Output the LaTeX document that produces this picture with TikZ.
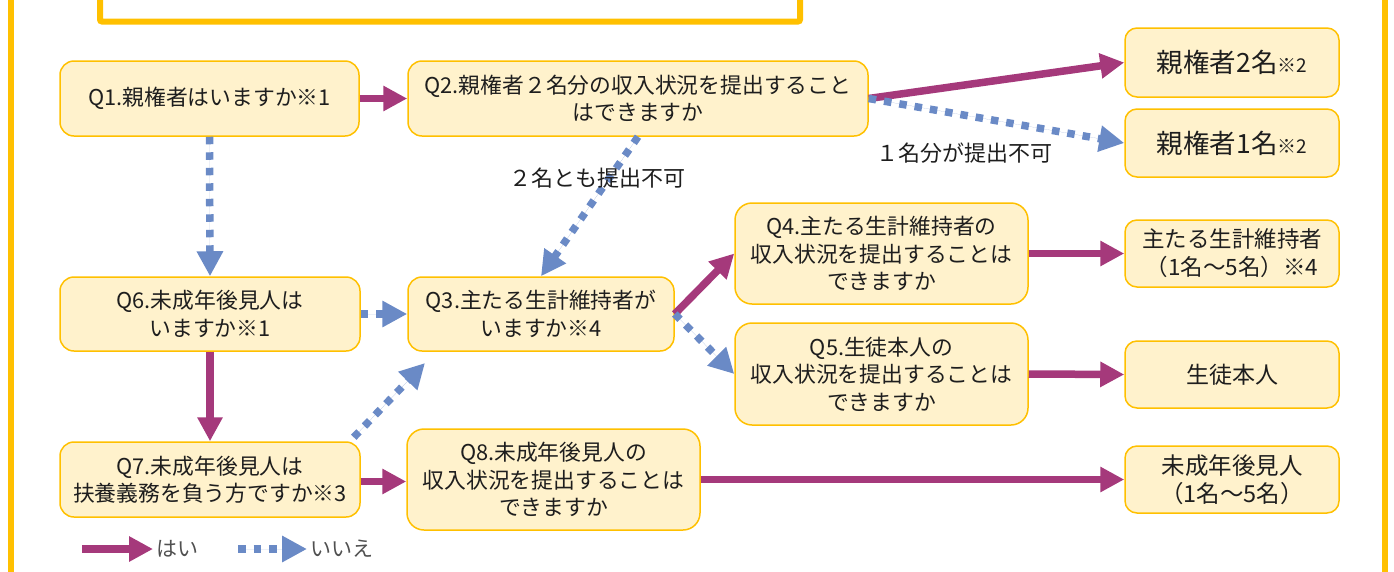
\documentclass[tikz,border=0pt]{standalone}
\usepackage{fontspec}
\setmainfont{Noto Sans CJK JP}
\usetikzlibrary{arrows.meta}
\definecolor{yescol}{HTML}{A5397B}
\definecolor{nocol}{HTML}{6A8AC6}
\definecolor{boxfill}{HTML}{FFF2CC}
\definecolor{boxline}{HTML}{FFC000}
\definecolor{framecol}{HTML}{FFC000}
\definecolor{txt}{HTML}{1E1E1E}
\definecolor{legtxt}{HTML}{505050}
\begin{document}
\begin{tikzpicture}[x=1pt,y=-1pt,
  qbox/.style={draw=boxline, fill=boxfill, line width=1.5pt, rounded corners=14pt,
    align=center, inner sep=0pt, text=txt, font=\fontsize{21.8}{27.5}\selectfont},
  rbox/.style={qbox, minimum width=214pt, rounded corners=12pt},
  yesarrow/.style={draw=yescol, fill=yescol, line width=7.5pt,
    -{Triangle[length=24pt,width=24pt]}},
  noarrow/.style={draw=nocol, fill=nocol, line width=7.5pt,
    dash pattern=on 7.5pt off 8pt, -{Triangle[length=25pt,width=25pt]}},
  lbl/.style={text=txt, font=\fontsize{22}{27}\selectfont, inner sep=0pt},
  leg/.style={text=legtxt, font=\fontsize{21}{24}\selectfont, inner sep=0pt, anchor=west}]
\useasboundingbox (0,0) rectangle (1394,571);

% frame
\draw[framecol, line width=6pt] (11,-10) -- (11,585);
\draw[framecol, line width=6pt] (1385,-10) -- (1385,585);
\draw[framecol, line width=6pt, rounded corners=2pt] (100,-20) -- (100,21.5) -- (800,21.5) -- (800,-20);

% question boxes
\node[qbox, minimum width=299pt, minimum height=75pt] (q1) at (209.5,98.5) {Q1.親権者はいますか※1};
\node[qbox, minimum width=460pt, minimum height=75pt] (q2) at (638,98.5) {Q2.親権者２名分の収入状況を提出すること\\はできますか};
\node[qbox, minimum width=300pt, minimum height=74pt] (q6) at (210,314) {Q6.未成年後見人は\\いますか※1};
\node[qbox, minimum width=300pt, minimum height=75pt] (q7) at (210,479.5) {Q7.未成年後見人は\\扶養義務を負う方ですか※3};
\node[qbox, minimum width=266pt, minimum height=74pt] (q3) at (541,314) {Q3.主たる生計維持者が\\いますか※4};
\node[qbox, minimum width=293pt, minimum height=101pt, rounded corners=17pt] (q4) at (881.5,253.5) {Q4.主たる生計維持者の\\収入状況を提出することは\\できますか};
\node[qbox, minimum width=293pt, minimum height=102pt, rounded corners=17pt] (q5) at (881.5,374) {Q5.生徒本人の\\収入状況を提出することは\\できますか};
\node[qbox, minimum width=293pt, minimum height=101pt, rounded corners=17pt] (q8) at (553.5,479.5) {Q8.未成年後見人の\\収入状況を提出することは\\できますか};

% result boxes
\node[rbox, minimum height=69pt] (r2) at (1232,62.5) {{\fontsize{26.5}{30}\selectfont 親権者2名}{\fontsize{19}{30}\selectfont ※2}};
\node[rbox, minimum height=68pt] (r1) at (1232,143) {{\fontsize{26.5}{30}\selectfont 親権者1名}{\fontsize{19}{30}\selectfont ※2}};
\node[rbox, minimum height=67pt, font=\fontsize{22.5}{28}\selectfont] (rm) at (1232,253.5) {主たる生計維持者\\（1名～5名）※4};
\node[rbox, minimum height=67pt, font=\fontsize{23}{28}\selectfont] (rs) at (1232,374.5) {生徒本人};
\node[rbox, minimum height=67pt, font=\fontsize{23.5}{28}\selectfont] (rg) at (1232,479.5) {未成年後見人\\（1名～5名）};

% connectors
\draw[yesarrow] (q1.east) -- (q2.west);
\draw[noarrow] (q1.south) -- (q6.north);
\draw[yesarrow] (q2.east) -- (r2.west);
\draw[noarrow] (q2.east) -- (r1.west);
\draw[noarrow] (q2.south) -- (q3.north);
\draw[noarrow] (q6.east) -- (q3.west);
\draw[yesarrow] (q6.south) -- (q7.north);
\coordinate (q3in) at (425,363);
\draw[noarrow] ([xshift=-7pt,yshift=4pt]q7.north east) -- (q3in);
\draw[yesarrow] (q3.east) -- (q4.west);
\draw[noarrow] (q3.east) -- (q5.west);
\draw[yesarrow] (q4.east) -- (rm.west);
\draw[yesarrow] (q5.east) -- (rs.west);
\draw[yesarrow] ([yshift=-2pt]q7.east) -- ([yshift=-2pt]q8.west);
\draw[yesarrow] (q8.east) -- (rg.west);

% edge labels
\node[lbl] (l23) at (597,178) {２名とも提出不可};
\node[lbl] (l21) at (964,153) {１名分が提出不可};

% legend
\coordinate (ya) at (82,549);
\coordinate (yb) at (153,549);
\draw[yesarrow] (ya) -- (yb);
\node[leg] (yt) at (156,549) {はい};
\coordinate (na) at (238,549);
\coordinate (nb) at (307,549);
\draw[noarrow] (na) -- (nb);
\node[leg] (nt) at (310,549) {いいえ};
\end{tikzpicture}
\end{document}
